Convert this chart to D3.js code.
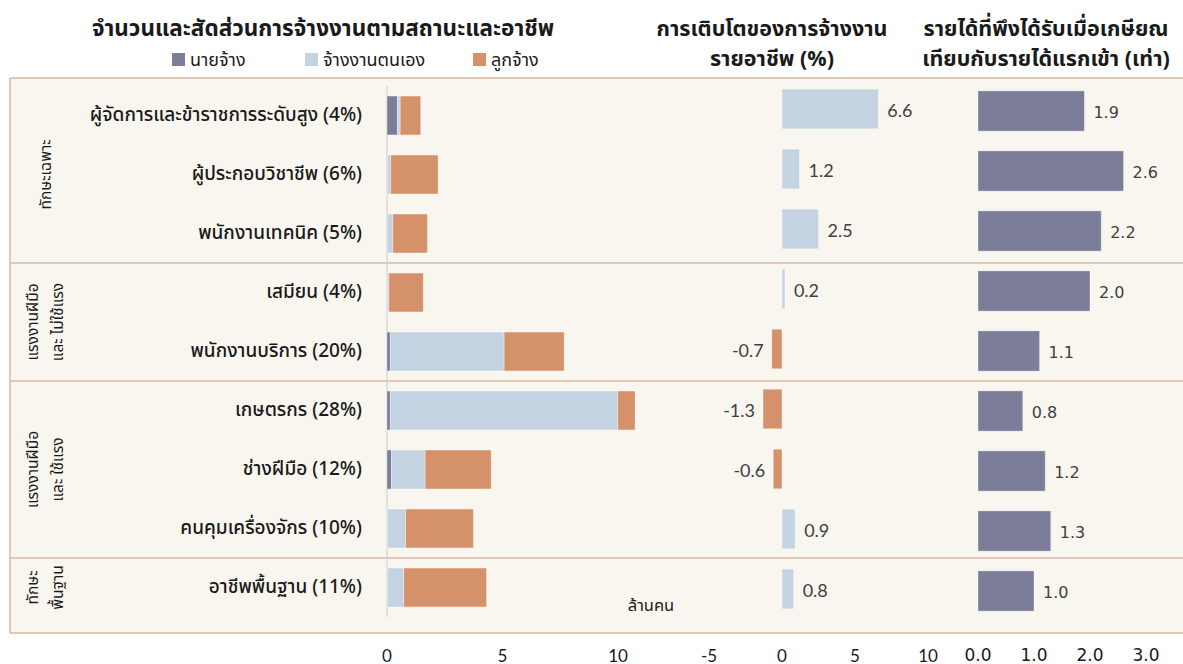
<!DOCTYPE html>
<html><head><meta charset="utf-8">
<script src="https://cdn.jsdelivr.net/npm/d3@7/dist/d3.min.js"></script>
<style>
body{margin:0;background:#fff;}
svg{display:block;font-family:"Noto Sans Thai","Leelawadee UI",Tahoma,"Noto Sans",sans-serif;}
</style></head><body>
<svg id="c" width="1183" height="664"></svg>
<script>
const occupations = ["ผู้จัดการและข้าราชการระดับสูง (4%)","ผู้ประกอบวิชาชีพ (6%)","พนักงานเทคนิค (5%)","เสมียน (4%)","พนักงานบริการ (20%)","เกษตรกร (28%)","ช่างฝีมือ (12%)","คนคุมเครื่องจักร (10%)","อาชีพพื้นฐาน (11%)"];
const statusNames = ["นายจ้าง","จ้างงานตนเอง","ลูกจ้าง"];
const employer =     [0.45,0.02,0.03,0.01,0.14,0.14,0.19,0.02,0.02];
const selfEmployed = [0.12,0.14,0.22,0.07,4.93,9.85,1.46,0.79,0.71];
const employee =     [0.89,2.05,1.50,1.49,2.60,0.75,2.86,2.93,3.58];
const growth = [6.6,1.2,2.5,0.2,-0.7,-1.3,-0.6,0.9,0.8];
const incomeRatio = [1.9,2.6,2.2,2.0,1.1,0.8,1.2,1.3,1.0];
const groupNames = [["ทักษะเฉพาะ"],["แรงงานฝีมือ","และ ไม่ใช้แรง"],["แรงงานฝีมือ","และ ใช้แรง"],["ทักษะ","พื้นฐาน"]];
const groupSizes = [3,2,3,1];
const ticksLeft = [0,5,10];
const ticksMid = [-5,0,5,10];
const ticksRight = [0,1,2,3];
const unitLabel = "ล้านคน";
const titleLeft = "จำนวนและสัดส่วนการจ้างงานตามสถานะและอาชีพ";
const titleMid = ["การเติบโตของการจ้างงาน","รายอาชีพ (%)"];
const titleRight = ["รายได้ที่พึงได้รับเมื่อเกษียณ","เทียบกับรายได้แรกเข้า (เท่า)"];

const colors = ["#7b7d99","#c3d3e2","#d5916a"];
const bg = "#f9f6ef", sepColor = "#d7b8a6", txt = "#1a1a1a", valTxt = "#404040";

const svg = d3.select("#c");
const frameTop = 78, frameBottom = 633, frameLeft = 10, frameRight = 1183;

svg.append("rect").attr("x",frameLeft).attr("y",frameTop).attr("width",frameRight-frameLeft).attr("height",frameBottom-frameTop).attr("fill",bg);

// scales
const yL = d3.scaleBand().domain(d3.range(9)).range([86,617]).paddingInner(0.34).paddingOuter(0.17);
const yM = d3.scaleBand().domain(d3.range(9)).range([79,619]).paddingInner(0.34).paddingOuter(0.17);
const yR = d3.scaleBand().domain(d3.range(9)).range([81,621]).paddingInner(0.33).paddingOuter(0.165);
const xL = d3.scaleLinear().domain([0,10]).range([387,618]);
const xM = d3.scaleLinear().domain([-5,10]).range([709,928]);
const xR = d3.scaleLinear().domain([0,3]).range([978,1146]);

// group separators
let cum = 0;
const bounds = [];
groupSizes.forEach((s,i)=>{ bounds.push([cum,cum+s-1]); cum+=s; });
const stepL = yL.step();
const sepYs = bounds.slice(0,-1).map(b => yL(b[1]) + yL.bandwidth() + (stepL - yL.bandwidth())/2);
svg.append("line").attr("x1",frameLeft).attr("x2",frameRight).attr("y1",frameTop).attr("y2",frameTop).attr("stroke",sepColor).attr("stroke-width",1.5);
svg.append("line").attr("x1",frameLeft).attr("x2",frameRight).attr("y1",frameBottom).attr("y2",frameBottom).attr("stroke",sepColor).attr("stroke-width",1.5);
svg.append("line").attr("x1",frameLeft).attr("x2",frameLeft).attr("y1",frameTop).attr("y2",frameBottom).attr("stroke",sepColor).attr("stroke-width",1.5);
svg.selectAll(".sep").data(sepYs).join("line").attr("x1",frameLeft).attr("x2",frameRight)
  .attr("y1",d=>d).attr("y2",d=>d).attr("stroke",sepColor).attr("stroke-width",1.5);

// group labels (rotated)
bounds.forEach((b,i)=>{
  const yc = (yL(b[0]) + yL(b[1]) + yL.bandwidth())/2;
  const lines = groupNames[i];
  const lh = 25;
  const cx = 46;
  lines.forEach((ln,j)=>{
    const x = cx + (j - (lines.length-1)/2)*lh;
    svg.append("text").attr("transform",`translate(${x},${yc}) rotate(-90)`)
      .attr("text-anchor","middle").attr("dominant-baseline","central")
      .attr("font-size",15.5).attr("fill",txt).text(ln);
  });
});

// category labels
svg.selectAll(".cat").data(occupations).join("text")
  .attr("x",362).attr("y",(d,i)=>yL(i)+yL.bandwidth()/2)
  .attr("text-anchor","end").attr("dominant-baseline","central")
  .attr("font-size",19).attr("font-weight",500).attr("fill",txt).text(d=>d);

// left axis line
svg.append("line").attr("x1",xL(0)).attr("x2",xL(0)).attr("y1",yL.range()[0]).attr("y2",yL.range()[1]).attr("stroke","#d4d4d4").attr("stroke-width",1.2);

// stacked bars
const stackData = occupations.map((o,i)=>({i, a:employer[i], b:selfEmployed[i], c:employee[i]}));
const stack = d3.stack().keys(["a","b","c"])(stackData);
svg.selectAll(".layer").data(stack).join("g").attr("fill",(d,k)=>colors[k])
  .selectAll("rect").data(d=>d).join("rect")
  .attr("x",d=>xL(d[0])).attr("width",d=>Math.max(0,xL(d[1])-xL(d[0])))
  .attr("y",d=>yL(d.data.i)).attr("height",yL.bandwidth())
  .attr("stroke","#ffffff").attr("stroke-opacity",0.45).attr("stroke-width",0.8);

svg.append("text").attr("x",651).attr("y",605).attr("text-anchor","middle").attr("dominant-baseline","central")
  .attr("font-size",16.5).attr("fill",txt).text(unitLabel);

// middle bars
svg.selectAll(".mid").data(growth).join("rect")
  .attr("x",d=>xM(Math.min(0,d))).attr("width",d=>Math.abs(xM(d)-xM(0)))
  .attr("y",(d,i)=>yM(i)).attr("height",yM.bandwidth())
  .attr("fill",d=>d<0?colors[2]:colors[1]).attr("stroke","#ffffff").attr("stroke-opacity",0.45).attr("stroke-width",0.8);
svg.selectAll(".midl").data(growth).join("text")
  .attr("x",d=>d<0?xM(d)-8:xM(d)+9).attr("y",(d,i)=>yM(i)+yM.bandwidth()/2+1)
  .attr("text-anchor",d=>d<0?"end":"start").attr("dominant-baseline","central")
  .attr("font-family","Lato, sans-serif").attr("font-size",18).attr("fill",valTxt).text(d=>d3.format(".1f")(d).replace("−","-"));

// right bars
svg.selectAll(".rt").data(incomeRatio).join("rect")
  .attr("x",xR(0)).attr("width",d=>xR(d)-xR(0))
  .attr("y",(d,i)=>yR(i)).attr("height",yR.bandwidth())
  .attr("fill",colors[0]).attr("stroke","#ffffff").attr("stroke-opacity",0.45).attr("stroke-width",0.8);
svg.selectAll(".rtl").data(incomeRatio).join("text")
  .attr("x",d=>xR(d)+9).attr("y",(d,i)=>yR(i)+yR.bandwidth()/2+1)
  .attr("dominant-baseline","central")
  .attr("font-family","'DejaVu Sans', Verdana, sans-serif").attr("font-size",16).attr("fill",valTxt).text(d=>d3.format(".1f")(d));

// axes tick labels
function tickRow(scale, ticks, fmt, fam, weight){
  svg.append("g").selectAll("text").data(ticks).join("text")
    .attr("x",d=>scale(d)).attr("y",655).attr("text-anchor","middle").attr("dominant-baseline","central")
    .attr("font-family",fam).attr("font-size",17).attr("font-weight",weight).attr("fill",txt).text(fmt);
}
tickRow(xL, ticksLeft, d=>d, "Lato, sans-serif", 400);
tickRow(xM, ticksMid, d=>d, "Lato, sans-serif", 400);
tickRow(xR, ticksRight, d=>d3.format(".1f")(d), "'DejaVu Sans', Verdana, sans-serif", 400);

// titles
svg.append("text").attr("x",323).attr("y",29).attr("text-anchor","middle").attr("dominant-baseline","central")
  .attr("font-size",22.5).attr("font-weight",700).attr("fill",txt).text(titleLeft);
titleMid.forEach((t,j)=>svg.append("text").attr("x",772).attr("y",29+j*30).attr("text-anchor","middle").attr("dominant-baseline","central")
  .attr("font-size",21.5).attr("font-weight",700).attr("fill",txt).text(t));
titleRight.forEach((t,j)=>svg.append("text").attr("x",1046).attr("y",29+j*30).attr("text-anchor","middle").attr("dominant-baseline","central")
  .attr("font-size",21.5).attr("font-weight",700).attr("fill",txt).text(t));

// legend
const legX = [172,305,473];
statusNames.forEach((n,k)=>{
  svg.append("rect").attr("x",legX[k]).attr("y",53).attr("width",13).attr("height",13).attr("fill",colors[k]);
  svg.append("text").attr("x",legX[k]+18).attr("y",60).attr("dominant-baseline","central")
    .attr("font-size",18).attr("fill",txt).text(n);
});
</script>
</body></html>
